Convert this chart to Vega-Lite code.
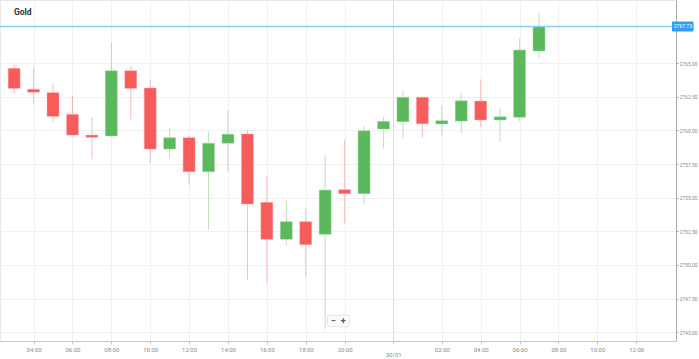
{
  "$schema": "https://vega.github.io/schema/vega-lite/v6.json",
  "width": 676,
  "height": 341,
  "autosize": {"type": "none"},
  "padding": {"left": 0, "top": 0, "right": 23, "bottom": 18},
  "background": "white",
  "config": {"view": {"stroke": "#e8e8e8"}, "font": "Roboto"},
  "data": {"values": [
    {"i": 1, "o": 2764.62, "h": 2764.94, "l": 2762.76, "c": 2763.13},
    {"i": 2, "o": 2763.06, "h": 2764.67, "l": 2761.95, "c": 2762.84},
    {"i": 3, "o": 2762.81, "h": 2763.51, "l": 2760.63, "c": 2761.05},
    {"i": 4, "o": 2761.20, "h": 2762.58, "l": 2759.64, "c": 2759.66},
    {"i": 5, "o": 2759.66, "h": 2760.98, "l": 2757.86, "c": 2759.49},
    {"i": 6, "o": 2759.59, "h": 2766.53, "l": 2759.55, "c": 2764.44},
    {"i": 7, "o": 2764.44, "h": 2764.79, "l": 2760.85, "c": 2763.13},
    {"i": 8, "o": 2763.16, "h": 2763.75, "l": 2757.56, "c": 2758.62},
    {"i": 9, "o": 2758.62, "h": 2760.21, "l": 2757.90, "c": 2759.46},
    {"i": 10, "o": 2759.46, "h": 2759.59, "l": 2755.95, "c": 2756.93},
    {"i": 11, "o": 2756.93, "h": 2759.91, "l": 2752.60, "c": 2759.05},
    {"i": 12, "o": 2759.05, "h": 2761.52, "l": 2756.91, "c": 2759.72},
    {"i": 13, "o": 2759.74, "h": 2760.09, "l": 2748.88, "c": 2754.53},
    {"i": 14, "o": 2754.66, "h": 2756.64, "l": 2748.71, "c": 2751.91},
    {"i": 15, "o": 2751.91, "h": 2754.78, "l": 2751.43, "c": 2753.22},
    {"i": 16, "o": 2753.22, "h": 2754.21, "l": 2749.13, "c": 2751.51},
    {"i": 17, "o": 2752.28, "h": 2758.18, "l": 2745.22, "c": 2755.57},
    {"i": 18, "o": 2755.60, "h": 2759.34, "l": 2753.10, "c": 2755.30},
    {"i": 19, "o": 2755.30, "h": 2760.33, "l": 2754.53, "c": 2759.98},
    {"i": 20, "o": 2760.11, "h": 2761.02, "l": 2758.67, "c": 2760.68},
    {"i": 21, "o": 2760.65, "h": 2762.96, "l": 2759.42, "c": 2762.47},
    {"i": 22, "o": 2762.47, "h": 2762.47, "l": 2759.46, "c": 2760.50},
    {"i": 23, "o": 2760.48, "h": 2761.82, "l": 2759.61, "c": 2760.73},
    {"i": 24, "o": 2760.70, "h": 2762.81, "l": 2759.79, "c": 2762.21},
    {"i": 25, "o": 2762.19, "h": 2763.80, "l": 2760.28, "c": 2760.78},
    {"i": 26, "o": 2760.78, "h": 2761.65, "l": 2759.17, "c": 2761.02},
    {"i": 27, "o": 2760.98, "h": 2766.85, "l": 2760.70, "c": 2765.98},
    {"i": 28, "o": 2765.91, "h": 2768.79, "l": 2765.41, "c": 2767.73}
  ]},
  "layer": [
    {
      "mark": {"type": "rule", "strokeWidth": 1, "opacity": 0.4},
      "encoding": {
        "x": {
          "field": "i", "type": "quantitative",
          "scale": {"domain": [0.53, 34.79], "nice": false, "zero": false},
          "axis": {
            "title": null,
            "values": [2, 4, 6, 8, 10, 12, 14, 16, 18, 20.5, 23, 25, 27, 29, 31, 33],
            "labelExpr": "datum.value == 20.5 ? '30/01' : (datum.value < 20 ? format(datum.value + 2, '02d') : format(datum.value - 21, '02d')) + ':00'",
            "labelFontSize": 6,
            "labelColor": "#8a8a8a",
            "labelPadding": {"condition": {"test": "datum.value == 20.5", "value": 7}, "value": 2},
            "tickSize": 3,
            "tickColor": "#c8c8c8",
            "domainColor": "#c8c8c8",
            "gridColor": {"condition": {"test": "datum.value == 20.5", "value": "#dcdcdc"}, "value": "#f1f1f1"},
            "labelFlush": false,
            "labelOverlap": false
          }
        },
        "y": {
          "field": "l", "type": "quantitative",
          "scale": {"domain": [2744.35, 2769.70], "nice": false, "zero": false},
          "axis": {
            "title": null,
            "orient": "right",
            "values": [2745, 2747.5, 2750, 2752.5, 2755, 2757.5, 2760, 2762.5, 2765],
            "format": ".2f",
            "labelFontSize": 5,
            "labelColor": "#8a8a8a",
            "labelPadding": 1,
            "tickSize": 2,
            "tickColor": "#aaaaaa",
            "domainColor": "#aaaaaa",
            "gridColor": "#f1f1f1"
          }
        },
        "y2": {"field": "h"},
        "color": {"condition": {"test": "datum.c >= datum.o", "value": "#5cb85c"}, "value": "#f75b5b"}
      }
    },
    {
      "mark": {"type": "bar", "size": 12, "strokeWidth": 1, "strokeOpacity": 0.45},
      "encoding": {
        "x": {"field": "i", "type": "quantitative"},
        "y": {"field": "o", "type": "quantitative"},
        "y2": {"field": "c"},
        "color": {"condition": {"test": "datum.c >= datum.o", "value": "#5cb85c"}, "value": "#f75b5b"},
        "stroke": {"condition": {"test": "datum.c >= datum.o", "value": "#a6dba6"}, "value": "#fbb0b0"}
      }
    },
    {
      "transform": [{"filter": "datum.i == 28"}],
      "mark": {"type": "rule", "color": "#8ccff5", "strokeWidth": 1.5},
      "encoding": {"y": {"field": "c", "type": "quantitative"}}
    },
    {
      "transform": [{"filter": "datum.i == 28"}],
      "mark": {"type": "rect", "color": "#2d9ff0", "clip": false, "yOffset": -5, "y2Offset": 5, "cornerRadius": 1},
      "encoding": {
        "x": {"datum": 34.84},
        "x2": {"datum": 35.95},
        "y": {"field": "c", "type": "quantitative"},
        "y2": {"field": "c"}
      }
    },
    {
      "transform": [{"filter": "datum.i == 28"}],
      "mark": {"type": "text", "color": "white", "fontSize": 5, "align": "center", "baseline": "middle", "clip": false},
      "encoding": {
        "x": {"datum": 35.4},
        "y": {"field": "c", "type": "quantitative"},
        "text": {"field": "c", "type": "quantitative", "format": ".2f"}
      }
    },
    {
      "data": {"values": [{"name": "Gold"}]},
      "mark": {"type": "text", "fontSize": 8.5, "fontWeight": "bold", "color": "#333333", "align": "left", "baseline": "middle", "dx": 9},
      "encoding": {
        "x": {"datum": 0.53},
        "y": {"datum": 2768.8},
        "text": {"field": "name"}
      }
    },
    {
      "data": {"values": [{"k": "zoom"}]},
      "mark": {"type": "rect", "fill": "#fafafa", "stroke": "#e4e4e4", "strokeWidth": 1, "cornerRadius": 2},
      "encoding": {
        "x": {"datum": 17.12},
        "x2": {"datum": 18.27},
        "y": {"datum": 2746.26},
        "y2": {"datum": 2745.41}
      }
    },
    {
      "data": {"values": [{"t": "−", "p": 17.42}, {"t": "+", "p": 17.93}]},
      "mark": {"type": "text", "fontSize": 9, "fontWeight": "bold", "color": "#555555", "align": "center", "baseline": "middle"},
      "encoding": {
        "x": {"field": "p", "type": "quantitative"},
        "y": {"datum": 2745.83},
        "text": {"field": "t"}
      }
    }
  ]
}
